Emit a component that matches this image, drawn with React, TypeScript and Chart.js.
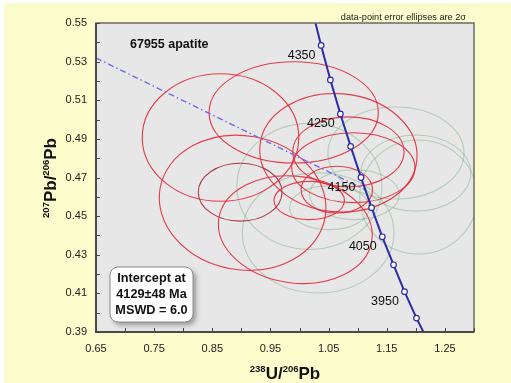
import React, { useEffect, useRef } from "react";
import { Chart, registerables } from "chart.js";

Chart.register(...registerables);

// ---- data ----
const xTickLabels = ["0.65", "0.75", "0.85", "0.95", "1.05", "1.15", "1.25"];
const yTickLabels = ["0.39", "0.41", "0.43", "0.45", "0.47", "0.49", "0.51", "0.53", "0.55"];

// concordia curve (238U/206Pb, 207Pb/206Pb); first and last are the frame crossings
const concordiaX = [1.0274, 1.0371, 1.0531, 1.0702, 1.0879, 1.1057, 1.1239, 1.1423, 1.1617, 1.1805, 1.2011, 1.2131];
const concordiaY = [0.55, 0.5384, 0.5205, 0.5029, 0.4861, 0.47, 0.4544, 0.4393, 0.4248, 0.4109, 0.3972, 0.39];
const concordiaAge = [null, 4350, 4300, 4250, 4200, 4150, 4100, 4050, 4000, 3950, 3900, null];
const labelledAges = [4350, 4250, 4150, 4050, 3950];

// regression (discordia) line
const regressionX = [0.65, 1.1133];
const regressionY = [0.5319, 0.4636];

// accepted analyses: centre and 2-sigma half-widths
const redCx = [0.8641, 0.99, 1.0668, 1.084, 1.0925, 0.9021, 0.8979, 0.9927, 1.0166, 1.0642];
const redCy = [0.4907, 0.5037, 0.4828, 0.4833, 0.4751, 0.4569, 0.4624, 0.443, 0.4581, 0.4637];
const redSx = [0.1346, 0.1455, 0.1355, 0.0957, 0.106, 0.1441, 0.072, 0.1329, 0.0606, 0.0614];
const redSy = [0.033, 0.0262, 0.0306, 0.0181, 0.0181, 0.0347, 0.015, 0.0276, 0.0099, 0.0121];
const redTilt = [0, 0, 5, 0, 0, 10, 0, 8, 0, 0];

// rejected analyses
const greenCx = [1.1658, 1.017, 1.032, 1.2045, 1.0514, 1.0943, 1.2001];
const greenCy = [0.4827, 0.4654, 0.4413, 0.4599, 0.4544, 0.4611, 0.4723];
const greenSx = [0.117, 0.1247, 0.1304, 0.101, 0.0686, 0.0772, 0.0943];
const greenSy = [0.0238, 0.0326, 0.0311, 0.0295, 0.0114, 0.0129, 0.0197];

const sampleName = "67955 apatite";
const ellipseNote = "data-point error ellipses are 2\u03c3";
const interceptLines = ["Intercept at", "4129\u00b148 Ma", "MSWD = 6.0"];

// ---- styles ----
const FONT = '"Liberation Sans", Arial, Helvetica, sans-serif';
const PAGE_BG = "#fbfbcc";
const PLOT_BG = "#e7e7e7";
const CONC_COLOR = "#2c2ca6";
const RED = "rgba(228,40,56,0.9)";
const DARK_RED = "rgba(160,45,50,0.9)";
const DARK_RED_INDEX = 6;
const GREEN = "rgba(110,170,125,0.42)";

function drawParts(ctx: CanvasRenderingContext2D, parts: [string, boolean][], cx: number, baseline: number) {
  const big = `bold 17px ${FONT}`;
  const sup = `bold 9.5px ${FONT}`;
  let total = 0;
  for (const [t, s] of parts) {
    ctx.font = s ? sup : big;
    total += ctx.measureText(t).width;
  }
  let x = cx - total / 2;
  ctx.textAlign = "left";
  ctx.textBaseline = "alphabetic";
  for (const [t, s] of parts) {
    ctx.font = s ? sup : big;
    ctx.fillText(t, x, s ? baseline - 7 : baseline);
    x += ctx.measureText(t).width;
  }
}

const decorPlugin = {
  id: "decor",
  beforeDraw(chart: any) {
    const { ctx, chartArea: a } = chart;
    ctx.save();
    ctx.fillStyle = "#ffffff";
    ctx.fillRect(0, 0, chart.width, chart.height);
    ctx.fillStyle = PAGE_BG;
    ctx.fillRect(4, 3, chart.width - 4, chart.height - 3);
    ctx.fillStyle = PLOT_BG;
    ctx.fillRect(a.left, a.top, a.right - a.left, a.bottom - a.top);
    ctx.restore();
  },
  beforeDatasetsDraw(chart: any) {
    const { ctx, chartArea: a } = chart;
    const xs = chart.scales.x;
    const ys = chart.scales.y;
    ctx.save();
    ctx.beginPath();
    ctx.rect(a.left, a.top, a.right - a.left, a.bottom - a.top);
    ctx.clip();
    const draw = (cx: number, cy: number, sx: number, sy: number, tilt: number, color: string, w: number) => {
      const px = xs.getPixelForValue(cx);
      const py = ys.getPixelForValue(cy);
      const rx = Math.abs(xs.getPixelForValue(cx + sx) - px);
      const ry = Math.abs(ys.getPixelForValue(cy + sy) - py);
      ctx.beginPath();
      ctx.ellipse(px, py, rx, ry, (tilt * Math.PI) / 180, 0, Math.PI * 2);
      ctx.strokeStyle = color;
      ctx.lineWidth = w;
      ctx.stroke();
    };
    for (let i = 0; i < greenCx.length; i++) draw(greenCx[i], greenCy[i], greenSx[i], greenSy[i], 0, GREEN, 1.1);
    for (let i = 0; i < redCx.length; i++)
      draw(redCx[i], redCy[i], redSx[i], redSy[i], redTilt[i], i === DARK_RED_INDEX ? DARK_RED : RED, 1.1);
    ctx.restore();
  },
  afterDraw(chart: any) {
    const { ctx, chartArea: a } = chart;
    const xs = chart.scales.x;
    const ys = chart.scales.y;
    ctx.save();
    // frame
    ctx.strokeStyle = "#6a6a6a";
    ctx.lineWidth = 1.5;
    ctx.strokeRect(a.left, a.top, a.right - a.left, a.bottom - a.top);
    ctx.strokeStyle = "#4a4a4a";
    ctx.lineWidth = 2;
    ctx.beginPath();
    ctx.moveTo(a.left, a.top);
    ctx.lineTo(a.left, a.bottom);
    ctx.lineTo(a.right, a.bottom);
    ctx.stroke();
    // inward ticks
    ctx.lineWidth = 1;
    ctx.strokeStyle = "#444";
    ctx.beginPath();
    for (const t of xs.ticks) {
      const p = Math.round(xs.getPixelForValue(t.value)) + 0.5;
      ctx.moveTo(p, a.bottom);
      ctx.lineTo(p, a.bottom - 4);
    }
    for (const t of ys.ticks) {
      const p = Math.round(ys.getPixelForValue(t.value)) + 0.5;
      ctx.moveTo(a.left, p);
      ctx.lineTo(a.left + 4, p);
    }
    ctx.stroke();

    // age labels on concordia
    ctx.fillStyle = "#111";
    ctx.font = `12.5px ${FONT}`;
    ctx.textAlign = "center";
    ctx.textBaseline = "middle";
    for (let i = 0; i < concordiaX.length; i++) {
      const age = concordiaAge[i];
      if (age !== null && labelledAges.includes(age)) {
        const px = xs.getPixelForValue(concordiaX[i]);
        const py = ys.getPixelForValue(concordiaY[i]);
        ctx.fillText(String(age), px - 19.5, py + 10);
      }
    }

    // sample name
    ctx.font = `bold 12.5px ${FONT}`;
    ctx.textAlign = "left";
    ctx.textBaseline = "alphabetic";
    ctx.fillText(sampleName, 130, 47.5);

    // note
    ctx.font = `9.2px ${FONT}`;
    ctx.textAlign = "right";
    ctx.fillStyle = "#222";
    ctx.fillText(ellipseNote, 466, 20);

    // intercept box
    const bx = 110, by = 267, bw = 83, bh = 55, r = 8;
    ctx.save();
    ctx.shadowColor = "rgba(0,0,0,0.35)";
    ctx.shadowBlur = 5;
    ctx.shadowOffsetX = 3;
    ctx.shadowOffsetY = 3;
    ctx.beginPath();
    ctx.roundRect(bx, by, bw, bh, r);
    ctx.fillStyle = "#ffffff";
    ctx.fill();
    ctx.restore();
    ctx.beginPath();
    ctx.roundRect(bx, by, bw, bh, r);
    ctx.strokeStyle = "#8a8a8a";
    ctx.lineWidth = 1;
    ctx.stroke();
    ctx.fillStyle = "#111";
    ctx.font = `bold 12.7px ${FONT}`;
    ctx.textAlign = "center";
    ctx.textBaseline = "middle";
    interceptLines.forEach((l, i) => ctx.fillText(l, bx + bw / 2, by + 11 + i * 16));

    // axis titles
    ctx.fillStyle = "#111";
    drawParts(ctx, [["238", true], ["U/", false], ["206", true], ["Pb", false]], 285, 379);
    ctx.save();
    ctx.translate(56, 178);
    ctx.rotate(-Math.PI / 2);
    drawParts(ctx, [["207", true], ["Pb/", false], ["206", true], ["Pb", false]], 0, 0);
    ctx.restore();
    ctx.restore();
  },
};

export default function App() {
  const ref = useRef<HTMLCanvasElement | null>(null);
  useEffect(() => {
    if (!ref.current) return;
    const concData = concordiaX.map((x, i) => ({ x, y: concordiaY[i] }));
    const regData = regressionX.map((x, i) => ({ x, y: regressionY[i] }));
    const chart = new Chart(ref.current, {
      type: "scatter",
      data: {
        datasets: [
          {
            data: concData,
            showLine: true,
            borderColor: CONC_COLOR,
            borderWidth: 2,
            pointRadius: concordiaAge.map((a) => (a === null ? 0 : 2.8)),
            pointBackgroundColor: "#ffffff",
            pointBorderColor: CONC_COLOR,
            pointBorderWidth: 1.2,
          },
          {
            data: regData,
            showLine: true,
            borderColor: "#6b6bee",
            borderWidth: 1.4,
            borderDash: [6, 3, 1.5, 3],
            pointRadius: 0,
          },
        ],
      },
      options: {
        responsive: false,
        animation: false,
        events: [],
        layout: { padding: { left: 0, top: 23, right: 37, bottom: 0 } },
        plugins: { legend: { display: false }, tooltip: { enabled: false } },
        scales: {
          x: {
            type: "linear",
            min: 0.65,
            max: 1.3,
            afterFit: (s: any) => {
              s.height = 51;
            },
            grid: { display: false, drawTicks: false },
            border: { display: false },
            ticks: {
              stepSize: 0.05,
              padding: 10,
              color: "#222",
              font: { family: FONT, size: 11 },
              autoSkip: false,
              maxRotation: 0,
              callback: (v: any) => {
                const s = Number(v).toFixed(2);
                return xTickLabels.includes(s) ? s : "";
              },
            },
          },
          y: {
            type: "linear",
            min: 0.39,
            max: 0.55,
            afterFit: (s: any) => {
              s.width = 96;
            },
            grid: { display: false, drawTicks: false },
            border: { display: false },
            ticks: {
              stepSize: 0.01,
              padding: 9,
              color: "#222",
              font: { family: FONT, size: 11 },
              autoSkip: false,
              callback: (v: any) => {
                const s = Number(v).toFixed(2);
                return yTickLabels.includes(s) ? s : "";
              },
            },
          },
        },
      },
      plugins: [decorPlugin],
    } as any);
    return () => chart.destroy();
  }, []);
  return (
    <div style={{ position: "fixed", left: 0, top: 0, width: 511, height: 383 }}>
      <canvas ref={ref} width={511} height={383} style={{ display: "block" }} />
    </div>
  );
}
